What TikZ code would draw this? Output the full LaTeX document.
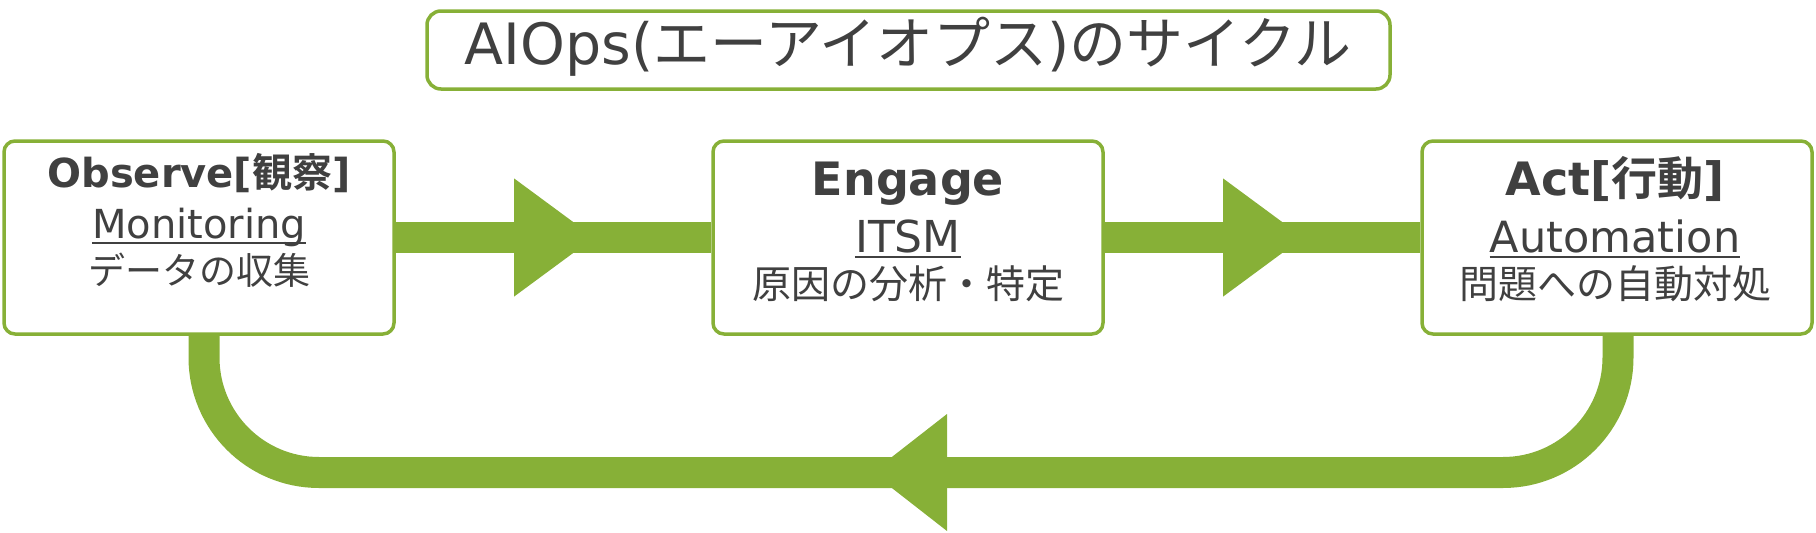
\documentclass[tikz,border=0pt]{standalone}
\usepackage{fontspec}
\setmainfont{DejaVu Sans}
\newfontfamily\jp{Noto Sans CJK JP}[BoldFont={Noto Sans CJK JP Bold}]
\usetikzlibrary{calc}

\definecolor{cyclegreen}{HTML}{87B037}
\definecolor{textgray}{HTML}{404040}
\newcommand\setfs[1]{\fontsize{#1}{#1}\selectfont}

\tikzset{
  stage/.style={draw=cyclegreen, line width=3.5pt, rounded corners=11pt, fill=white,
    minimum width=390pt, minimum height=193pt},
  titlebox/.style={draw=cyclegreen, line width=3.5pt, rounded corners=14pt,
    minimum width=963pt, minimum height=78pt},
  txt/.style={text=textgray, inner sep=0pt, anchor=base},
  flow/.style={draw=cyclegreen, line width=31pt},
  ul/.style={draw=textgray, line width=2.5pt},
}

\begin{document}
\begin{tikzpicture}[x=1pt,y=-1pt]
    \useasboundingbox (0,0) rectangle (1816,533);

    % Title
    \node[titlebox] (ttlbox) at (908.5,50) {};
    \node[txt,font=\setfs{57}] (ttl) at (908,64) {AIOps({\jp エーアイオプス}){\jp のサイクル}};

    % Stages
    \node[stage] (obs) at (199,237.5) {};
    \node[stage] (eng) at (908,237.5) {};
    \node[stage] (act) at (1617,237.5) {};

    % Observe
    \node[txt,font=\setfs{40}\bfseries] (obsA) at (199,187) {Observe[{\jp 観察}]};
    \node[txt,font=\setfs{40}] (obsB) at (199,238) {Monitoring};
    \node[txt,font=\jp\setfs{37}] (obsC) at (199,284) {データの収集};
    \draw[ul] ([yshift=-5pt]obsB.base west) -- ([yshift=-5pt]obsB.base east);

    % Engage
    \node[txt,font=\setfs{46}\bfseries] (engA) at (908,195) {Engage};
    \node[txt,font=\setfs{44}] (engB) at (908,252) {ITSM};
    \node[txt,font=\jp\setfs{39}] (engC) at (908,298) {原因の分析・特定};
    \draw[ul] ([yshift=-5pt]engB.base west) -- ([yshift=-5pt]engB.base east);

    % Act
    \node[txt,font=\setfs{46}\bfseries] (actA) at (1615,195) {Act[{\jp 行動}]};
    \node[txt,font=\setfs{43}] (actB) at (1615,252) {Automation};
    \node[txt,font=\jp\setfs{39}] (actC) at (1615,298) {問題への自動対処};
    \draw[ul] ([yshift=-5pt]actB.base west) -- ([yshift=-5pt]actB.base east);

    % Forward flows
    \draw[flow] (obs.east) -- (eng.west);
    \draw[flow] (eng.east) -- (act.west);
    \coordinate (tipA) at ($(obs.east)!0.629!(eng.west)$);
    \coordinate (tipB) at ($(eng.east)!0.629!(act.west)$);
    \fill[cyclegreen] ($(tipA)+(-80,-59)$) -- (tipA) -- ($(tipA)+(-80,59)$) -- cycle;
    \fill[cyclegreen] ($(tipB)+(-80,-59)$) -- (tipB) -- ($(tipB)+(-80,59)$) -- cycle;

    % Feedback loop
    \coordinate (loopbot) at (908,472.5);
    \draw[flow,rounded corners=115pt] ([xshift=1pt]act.south) |- (loopbot) -| ([xshift=5pt]obs.south);
    \coordinate (tipC) at (872,472.5);
    \fill[cyclegreen] ($(tipC)+(75,-58.5)$) -- (tipC) -- ($(tipC)+(75,58.5)$) -- cycle;
\end{tikzpicture}
\end{document}
